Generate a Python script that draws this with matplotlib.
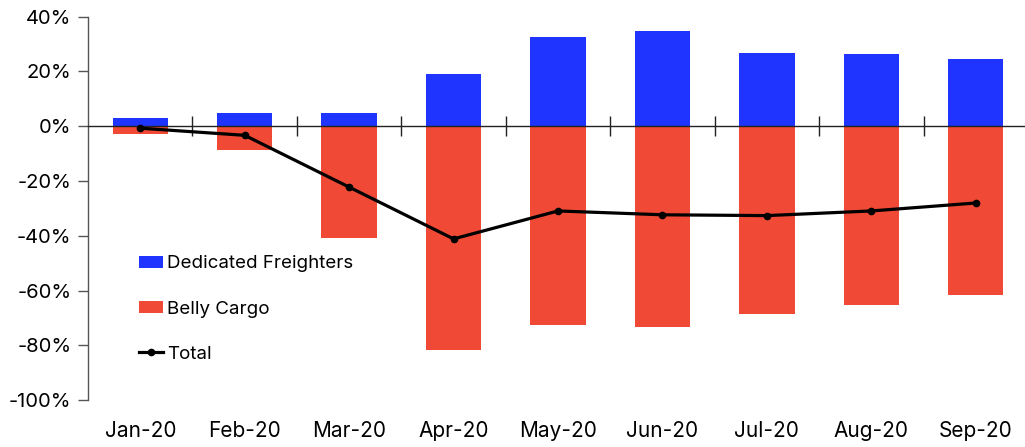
import numpy as np
import matplotlib
matplotlib.use("Agg")
import matplotlib.pyplot as plt
from matplotlib.ticker import FuncFormatter

plt.rcParams['font.family'] = ['Inter', 'DejaVu Sans']

# monthly change in air cargo capacity, % y/y
months = ['Jan-20', 'Feb-20', 'Mar-20', 'Apr-20', 'May-20', 'Jun-20', 'Jul-20', 'Aug-20', 'Sep-20']
freighters = [2.9, 4.8, 4.8, 19.1, 32.5, 34.8, 26.6, 26.3, 24.4]
belly = [-2.8, -8.8, -40.6, -81.8, -72.6, -73.4, -68.6, -65.1, -61.7]
total = [-0.7, -3.3, -22.2, -41.1, -30.9, -32.3, -32.6, -30.9, -28.0]

BLUE = '#1f35ff'
RED = '#f04935'

fig = plt.figure(figsize=(10.25, 4.47), dpi=100)
ax = fig.add_axes([0.0859, 0.1045, 0.917, 0.8582])

x = np.arange(len(months))
b1 = ax.bar(x, freighters, width=0.53, color=BLUE, label='Dedicated Freighters', zorder=2)
b2 = ax.bar(x, belly, width=0.53, color=RED, label='Belly Cargo', zorder=2)
ln, = ax.plot(x, total, color='black', lw=2.3, marker='o', ms=4.5, label='Total', zorder=4)

ax.set_xlim(-0.5, len(months) - 0.5)
ax.set_ylim(-100, 40)
ax.set_yticks(np.arange(-100, 41, 20))
ax.yaxis.set_major_formatter(FuncFormatter(lambda v, _: f'{v:.0f}%'))
ax.tick_params(axis='y', direction='out', length=7, width=1, color='#555555',
               labelsize=14.5, pad=5)

for s in ['top', 'right']:
    ax.spines[s].set_visible(False)
ax.spines['left'].set_color('#555555')
ax.spines['left'].set_linewidth(1)

# zero line with category separators
ax.spines['bottom'].set_position(('data', 0))
ax.spines['bottom'].set_color('#222222')
ax.spines['bottom'].set_linewidth(1)
ax.spines['bottom'].set_zorder(3)
ax.set_xticks(x[:-1] + 0.5)
ax.tick_params(axis='x', direction='inout', length=14, width=1, color='#222222',
               labelbottom=False)

# month labels along the bottom edge
sec = ax.secondary_xaxis(0)
sec.set_xticks(x)
sec.set_xticklabels(months)
sec.spines['bottom'].set_visible(False)
sec.tick_params(axis='x', length=0, labelsize=15, pad=15)

ax.legend(handles=[b1, b2, ln], loc='center left', bbox_to_anchor=(0.1356, 0.3087),
          bbox_transform=fig.transFigure, frameon=False, fontsize=13.5,
          handlelength=1.3, handleheight=0.6, handletextpad=0.2,
          labelspacing=1.5, borderpad=0, borderaxespad=0)

fig.savefig('out.png', dpi=100)
